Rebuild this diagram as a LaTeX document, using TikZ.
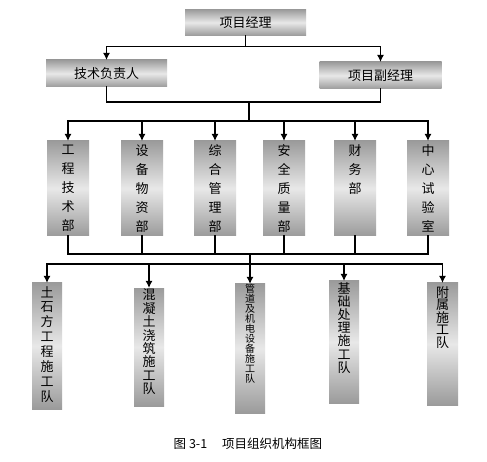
\documentclass[tikz,border=0pt]{standalone}
\usepackage{fontspec}
\newfontfamily\cjk{Noto Sans CJK SC}
\usetikzlibrary{arrows.meta}
\tikzset{
  shadebox/.style={shading=axis,top color=boxEdge,bottom color=boxEdge,middle color=boxMid,
    inner sep=0pt,outer sep=0pt,text=black,align=center},
  headbox/.style={shadebox,minimum height=26pt,font=\cjk\fontsize{13}{15}\selectfont},
  deptbox/.style={shadebox,minimum width=42pt,minimum height=95pt},
  teambox/.style={shadebox,minimum width=30pt},
  teamtext/.style={anchor=north,inner sep=1pt,align=center,text=black},
  link/.style={line width=1.8pt,line cap=rect},
  arrowlink/.style={link,-{Latex[length=7pt,width=7pt]}}
}
\begin{document}
\begin{tikzpicture}[x=1pt,y=-1pt]
\definecolor{boxEdge}{RGB}{155,155,155}
\definecolor{boxMid}{RGB}{232,232,232}
\path[use as bounding box,fill=white] (0,0) rectangle (487,462);

% management
\node[headbox,minimum width=121pt] (pm) at (245.5,22.5) {项目经理};
\node[headbox,minimum width=121pt,minimum height=27pt] (tech) at (106.5,73.5) {技术负责人};
\node[headbox,minimum width=122pt,minimum height=27pt] (dpm) at (380.5,75.5) {项目副经理};

% departments
\node[deptbox,font=\cjk\fontsize{13}{19}\selectfont] (d1) at ( 68,188.5) {工\\程\\技\\术\\部};
\node[deptbox,font=\cjk\fontsize{13}{19}\selectfont] (d2) at (142,188.5) {设\\备\\物\\资\\部};
\node[deptbox,font=\cjk\fontsize{13}{19}\selectfont] (d3) at (215,188.5) {综\\合\\管\\理\\部};
\node[deptbox,font=\cjk\fontsize{13}{19}\selectfont] (d4) at (284,188.5) {安\\全\\质\\量\\部};
\node[deptbox,font=\cjk\fontsize{13}{19}\selectfont] (d5) at (355,188.5) {财\\务\\部\\\mbox{}\\\mbox{}};
\node[deptbox,font=\cjk\fontsize{13}{19}\selectfont] (d6) at (428,188.5) {中\\心\\试\\验\\室};

% teams
\node[teambox,minimum height=126pt,
  label={[teamtext,yshift=-2pt,font=\cjk\fontsize{13}{14.9}\selectfont]north:{土\\石\\方\\工\\程\\施\\工\\队}}] (t1) at ( 47,346) {};
\node[teambox,minimum height=118pt,
  label={[teamtext,yshift=0pt,font=\cjk\fontsize{13}{13.4}\selectfont]north:{混\\凝\\土\\浇\\筑\\施\\工\\队}}] (t2) at (149,347) {};
\node[teambox,minimum height=129pt,
  label={[teamtext,yshift=1pt,font=\cjk\fontsize{10}{10}\selectfont]north:{管\\道\\及\\机\\电\\设\\备\\施\\工\\队}}] (t3) at (250,348.5) {};
\node[teambox,minimum height=122pt,
  label={[teamtext,yshift=0pt,font=\cjk\fontsize{13}{13.2}\selectfont]north:{基\\础\\处\\理\\施\\工\\队}}] (t4) at (344,342) {};
\node[teambox,minimum width=31pt,minimum height=122pt,
  label={[teamtext,yshift=-2pt,font=\cjk\fontsize{13}{12.5}\selectfont]north:{附\\属\\施\\工\\队}}] (t5) at (442.5,344) {};

% junctions
\coordinate (j1) at (249,102);
\coordinate (b1) at (249,121);
\coordinate (b2) at (250,254);
\coordinate (b3) at (250,264);

% connectors
\draw[arrowlink] (pm.south) -- ++(0,11) -| (tech.north);
\draw[arrowlink] (pm.south) -- ++(0,11) -| (dpm.north);
\draw[link] (tech.south) |- (j1) -| (dpm.south);
\foreach \i in {1,...,6}
  \draw[arrowlink] (j1) -- (b1) -| (d\i.north);
\foreach \i in {1,...,6}
  \draw[link] (d\i.south) |- (b2);
\foreach \i in {1,...,5}
  \draw[arrowlink] (b2) -- (b3) -| (t\i.north);

% caption
\node[font=\cjk\fontsize{12.5}{14}\selectfont] (cap) at (248,444) {图 3-1\hspace{1.2em}项目组织机构框图};
\end{tikzpicture}
\end{document}
